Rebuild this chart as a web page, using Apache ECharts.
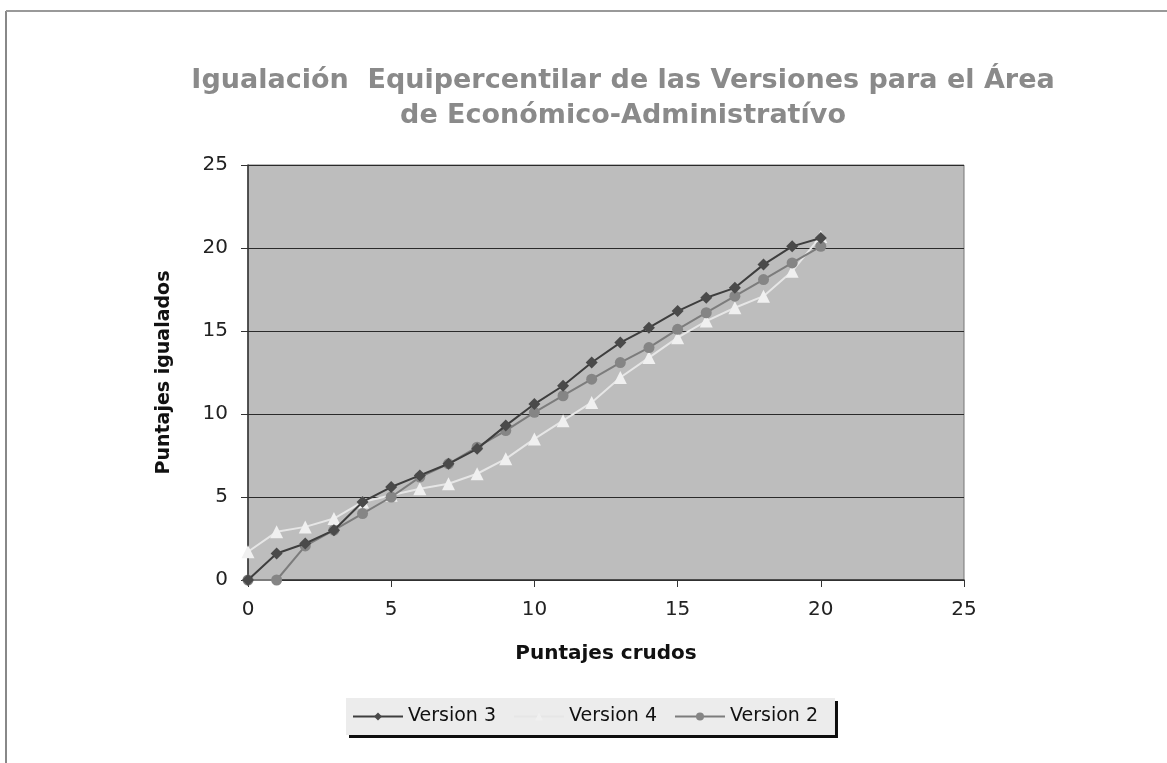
<!DOCTYPE html>
<html>
<head>
<meta charset="utf-8">
<script src="https://cdn.jsdelivr.net/npm/echarts@6/dist/echarts.min.js"></script>
<style>
  html, body { margin: 0; padding: 0; background: #fff; }
  #chart { width: 1167px; height: 763px; }
</style>
</head>
<body>
<div id="chart"></div>
<script>
// puntajes crudos 0..20
const crudos = [0, 1, 2, 3, 4, 5, 6, 7, 8, 9, 10, 11, 12, 13, 14, 15, 16, 17, 18, 19, 20]
const version3 = [0, 1.6, 2.2, 3.0, 4.7, 5.6, 6.3, 7.0, 7.9, 9.3, 10.6, 11.7, 13.1, 14.3, 15.2, 16.2, 17.0, 17.6, 19.0, 20.1, 20.6]
const version4 = [1.7, 2.9, 3.2, 3.7, 4.7, 5.1, 5.5, 5.8, 6.4, 7.3, 8.5, 9.6, 10.7, 12.2, 13.4, 14.6, 15.6, 16.4, 17.1, 18.6, 20.7]
const version2 = [0, 0, 2.05, 3.0, 4.0, 5.0, 6.2, 7.0, 8.0, 9.0, 10.1, 11.1, 12.1, 13.1, 14.0, 15.1, 16.1, 17.1, 18.1, 19.1, 20.1]
const axisTicks = [0, 5, 10, 15, 20, 25]

const pairs = (ys) => crudos.map((x, i) => [x, ys[i]])

const chart = echarts.init(document.getElementById('chart'))
const font = 'DejaVu Sans, Verdana, sans-serif'

const axisCommon = {
  type: 'value',
  min: axisTicks[0],
  max: axisTicks[axisTicks.length - 1],
  interval: 5,
  axisLine: { show: true, lineStyle: { color: '#333', width: 1.5 } },
  axisTick: { show: true, inside: false, length: 7, lineStyle: { color: '#333' } },
  axisLabel: { color: '#222', fontSize: 20, fontFamily: font, margin: 20 }
}

chart.setOption({
  animation: false,
  title: {
    text: 'Igualación  Equipercentilar de las Versiones para el Área\nde Económico-Administratívo',
    left: 618,
    top: 58,
    textAlign: 'center',
    textStyle: {
      color: '#8a8a8a',
      fontSize: 27,
      fontWeight: 'bold',
      fontFamily: font,
      lineHeight: 35,
      align: 'center'
    }
  },
  grid: {
    left: 248, right: 203, top: 165, bottom: 183,
    show: true,
    backgroundColor: '#bdbdbd',
    borderColor: '#777',
    borderWidth: 1
  },
  xAxis: {
    ...axisCommon,
    name: 'Puntajes crudos',
    nameLocation: 'middle',
    nameGap: 64,
    nameTextStyle: { color: '#111', fontSize: 20, fontWeight: 'bold', fontFamily: font },
    splitLine: { show: false }
  },
  yAxis: {
    ...axisCommon,
    name: 'Puntajes igualados',
    nameLocation: 'middle',
    nameGap: 74,
    nameTextStyle: { color: '#111', fontSize: 19, fontWeight: 'bold', fontFamily: font },
    splitLine: { show: true, lineStyle: { color: '#2a2a2a', width: 1 } }
  },
  legend: {
    top: 698,
    left: 346,
    itemGap: 17,
    itemWidth: 50,
    itemHeight: 10,
    padding: [9, 17, 9, 6],
    backgroundColor: '#ececec',
    shadowColor: 'rgba(0,0,0,0.95)',
    shadowBlur: 0,
    shadowOffsetX: 3,
    shadowOffsetY: 3,
    textStyle: { color: '#111', fontSize: 19, fontFamily: font },
    data: ['Version 3', 'Version 4', 'Version 2']
  },
  series: [
    {
      name: 'Version 3',
      type: 'line',
      data: pairs(version3),
      symbol: 'diamond',
      symbolSize: 12,
      z: 4,
      lineStyle: { color: '#3e3e3e', width: 2 },
      itemStyle: { color: '#4a4a4a' }
    },
    {
      name: 'Version 4',
      type: 'line',
      data: pairs(version4),
      symbol: 'triangle',
      symbolSize: 13,
      z: 2,
      lineStyle: { color: '#e6e6e6', width: 2 },
      itemStyle: { color: '#f0f0f0' }
    },
    {
      name: 'Version 2',
      type: 'line',
      data: pairs(version2),
      symbol: 'circle',
      symbolSize: 11,
      z: 3,
      lineStyle: { color: '#7c7c7c', width: 2 },
      itemStyle: { color: '#858585' }
    }
  ],
  graphic: [
    { type: 'line', shape: { x1: 6, y1: 11, x2: 6, y2: 763 }, style: { stroke: '#888', lineWidth: 2 } },
    { type: 'line', shape: { x1: 6, y1: 11, x2: 1167, y2: 11 }, style: { stroke: '#999', lineWidth: 2 } }
  ]
})
</script>
</body>
</html>
